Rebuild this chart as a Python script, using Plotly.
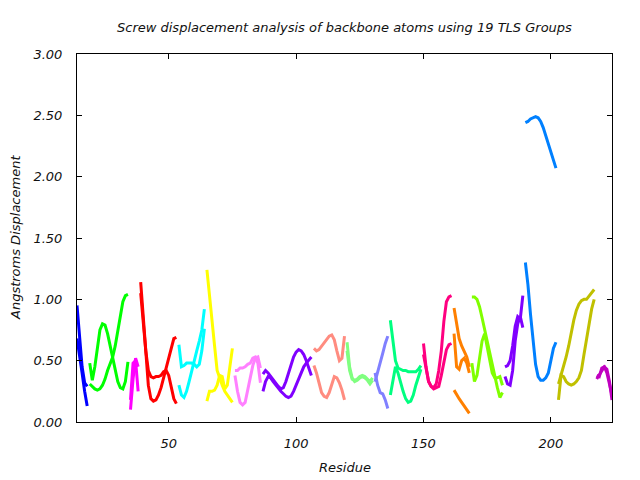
import plotly.graph_objects as go

TITLE = "Screw displacement analysis of backbone atoms using 19 TLS Groups"
X_TICKS = [50, 100, 150, 200]
Y_TICKS = [0.0, 0.5, 1.0, 1.5, 2.0, 2.5, 3.0]

COLORS = ["#0000ff", "#00ff00", "#ff00ff", "#ff0000", "#00ffff", "#ffff00",
          "#ff80ff", "#8000ff", "#ff8c80", "#80ff80", "#8080ff", "#00ff80",
          "#ff0080", "#ff8000", "#80ff00", "#8000ff", "#0080ff", "#c0c000",
          "#c000c0"]
START = [14, 19, 35, 39, 54, 65, 76, 87, 107, 120, 131, 137, 150, 162, 169,
         182, 190, 203, 218]

G01_A = [0.95, 0.70, 0.45, 0.32, 0.29]
G01_B = [0.68, 0.55, 0.40, 0.25, 0.13]
G02_A = [0.48, 0.34, 0.45, 0.62, 0.75, 0.80, 0.79, 0.72, 0.62, 0.52, 0.42, 0.33, 0.28, 0.27, 0.33, 0.49]
G02_B = [0.31, 0.29, 0.27, 0.26, 0.27, 0.30, 0.35, 0.42, 0.48, 0.53, 0.62, 0.75, 0.88, 0.98, 1.03, 1.04]
G03_A = [0.10, 0.35, 0.52, 0.45]
G03_B = [0.18, 0.48, 0.50, 0.25]
G04_A = [1.14, 0.85, 0.55, 0.30, 0.19, 0.17, 0.18, 0.22, 0.28, 0.36, 0.44, 0.53, 0.61, 0.68, 0.69]
G04_B = [1.05, 0.80, 0.58, 0.42, 0.37, 0.36, 0.37, 0.37, 0.38, 0.41, 0.42, 0.38, 0.28, 0.19, 0.15]
G05_A = [0.63, 0.45, 0.46, 0.48, 0.48, 0.48, 0.47, 0.45, 0.47, 0.58, 0.76]
G05_B = [0.30, 0.22, 0.20, 0.25, 0.33, 0.42, 0.50, 0.58, 0.66, 0.75, 0.92]
G06_A = [1.24, 1.05, 0.85, 0.62, 0.42, 0.35, 0.30, 0.25, 0.22, 0.18, 0.16]
G06_B = [0.17, 0.25, 0.25, 0.26, 0.30, 0.38, 0.37, 0.27, 0.30, 0.45, 0.60]
G07_A = [0.42, 0.42, 0.44, 0.44, 0.45, 0.47, 0.48, 0.52, 0.53, 0.48, 0.32]
G07_B = [0.38, 0.25, 0.16, 0.14, 0.16, 0.26, 0.36, 0.46, 0.52, 0.53, 0.44]
G08_A = [0.39, 0.42, 0.40, 0.37, 0.35, 0.32, 0.29, 0.27, 0.28, 0.33, 0.40, 0.47, 0.53, 0.57, 0.59, 0.58, 0.55, 0.50, 0.44, 0.38]
G08_B = [0.25, 0.33, 0.37, 0.36, 0.33, 0.30, 0.27, 0.25, 0.23, 0.21, 0.20, 0.21, 0.25, 0.30, 0.36, 0.41, 0.45, 0.48, 0.51, 0.53]
G09_A = [0.60, 0.58, 0.59, 0.62, 0.65, 0.68, 0.70, 0.71, 0.67, 0.58, 0.50, 0.52, 0.70]
G09_B = [0.46, 0.40, 0.32, 0.24, 0.21, 0.20, 0.24, 0.31, 0.37, 0.36, 0.32, 0.26, 0.18]
G10_A = [0.65, 0.45, 0.36, 0.33, 0.34, 0.36, 0.37, 0.36, 0.34, 0.31, 0.34]
G10_B = [0.58, 0.42, 0.35, 0.34, 0.35, 0.37, 0.38, 0.37, 0.35, 0.33, 0.36]
G11_A = [0.40, 0.30, 0.24, 0.23, 0.18, 0.11]
G11_B = [0.33, 0.40, 0.48, 0.56, 0.64, 0.70]
G12_A = [0.83, 0.66, 0.50, 0.44, 0.43, 0.42, 0.42, 0.41, 0.41, 0.41, 0.41, 0.43, 0.46]
G12_B = [0.22, 0.35, 0.45, 0.40, 0.32, 0.25, 0.19, 0.16, 0.17, 0.22, 0.30, 0.37, 0.43]
G13_A = [0.64, 0.45, 0.33, 0.29, 0.27, 0.28, 0.29, 0.38, 0.50, 0.59, 0.63, 0.64]
G13_B = [0.55, 0.44, 0.33, 0.29, 0.28, 0.31, 0.42, 0.58, 0.82, 0.98, 1.02, 1.03]
G14_A = [0.93, 0.80, 0.68, 0.62, 0.58, 0.53, 0.45]
G14_B = [0.72, 0.45, 0.43, 0.50, 0.52, 0.48, 0.40]
G14_C = [0.26, 0.22, 0.19, 0.16, 0.13, 0.11, 0.07]
G15_A = [1.02, 1.02, 1.00, 0.94, 0.85, 0.75, 0.65, 0.56, 0.46, 0.37, 0.28, 0.20, 0.24]
G15_B = [0.48, 0.33, 0.38, 0.52, 0.66, 0.72, 0.62, 0.50, 0.40, 0.36, 0.36, 0.37, 0.30]
G16_A = [0.45, 0.46, 0.50, 0.62, 0.78, 0.86, 0.84, 1.03]
G16_B = [0.37, 0.31, 0.30, 0.42, 0.66, 0.80, 0.86, 0.77]
G17_A = [2.44, 2.45, 2.47, 2.48, 2.49, 2.48, 2.45, 2.40, 2.33, 2.26, 2.19, 2.12, 2.07]
G17_B = [1.30, 1.12, 0.88, 0.66, 0.47, 0.37, 0.34, 0.34, 0.36, 0.40, 0.50, 0.60, 0.65]
G18_A = [0.18, 0.38, 0.37, 0.33, 0.31, 0.30, 0.31, 0.33, 0.36, 0.42, 0.55, 0.68, 0.80, 0.92, 1.00]
G18_B = [0.31, 0.38, 0.46, 0.53, 0.62, 0.74, 0.83, 0.91, 0.96, 0.99, 1.00, 1.00, 1.03, 1.05, 1.08]
G19_A = [0.35, 0.38, 0.42, 0.45, 0.43, 0.33, 0.18]
G19_B = [0.38, 0.37, 0.44, 0.45, 0.40, 0.30, 0.22]

GROUPS = [
    [G01_A, G01_B], [G02_A, G02_B], [G03_A, G03_B], [G04_A, G04_B],
    [G05_A, G05_B], [G06_A, G06_B], [G07_A, G07_B], [G08_A, G08_B],
    [G09_A, G09_B], [G10_A, G10_B], [G11_A, G11_B], [G12_A, G12_B],
    [G13_A, G13_B], [G14_A, G14_B, G14_C], [G15_A, G15_B], [G16_A, G16_B],
    [G17_A, G17_B], [G18_A, G18_B], [G19_A, G19_B],
]

FONT = "DejaVu Sans"
TXT = "#111111"

fig = go.Figure()
for start, color, strands in zip(START, COLORS, GROUPS):
    for vals in strands:
        xs = list(range(start, start + len(vals)))
        fig.add_trace(go.Scatter(x=xs, y=vals, mode="lines",
                                 line=dict(color=color, width=3),
                                 showlegend=False, hoverinfo="skip"))

axis_common = dict(showgrid=False, zeroline=False, showline=True,
                   linecolor="black", linewidth=1, mirror="ticks",
                   ticks="inside", ticklen=5, tickcolor="black",
                   tickfont=dict(family=FONT, size=13, color=TXT, style="italic"))

fig.update_xaxes(range=[14, 224], tickvals=X_TICKS, ticktext=[str(v) for v in X_TICKS],
                 ticklabelstandoff=9, **axis_common)
fig.update_yaxes(range=[0, 3], tickvals=Y_TICKS, ticktext=["%.2f" % v for v in Y_TICKS],
                 ticklabelstandoff=11, **axis_common)

fig.update_layout(
    width=640, height=480,
    margin=dict(l=77, r=28, t=54, b=58, pad=0),
    paper_bgcolor="white", plot_bgcolor="white",
    showlegend=False,
    annotations=[
        dict(text=TITLE, xref="paper", yref="paper", x=0.5, y=1.0, yshift=27,
             showarrow=False, xanchor="center", yanchor="middle",
             font=dict(family=FONT, size=13, color=TXT, style="italic")),
        dict(text="Residue", xref="paper", yref="paper", x=0.5, y=0, yshift=-45,
             showarrow=False, xanchor="center", yanchor="middle",
             font=dict(family=FONT, size=13, color=TXT, style="italic")),
        dict(text="Angstroms Displacement", xref="paper", yref="paper", x=0, y=0.5,
             xshift=-62, showarrow=False, xanchor="center", yanchor="middle",
             textangle=-90,
             font=dict(family=FONT, size=13, color=TXT, style="italic")),
    ],
)

fig.write_html("out.html")
